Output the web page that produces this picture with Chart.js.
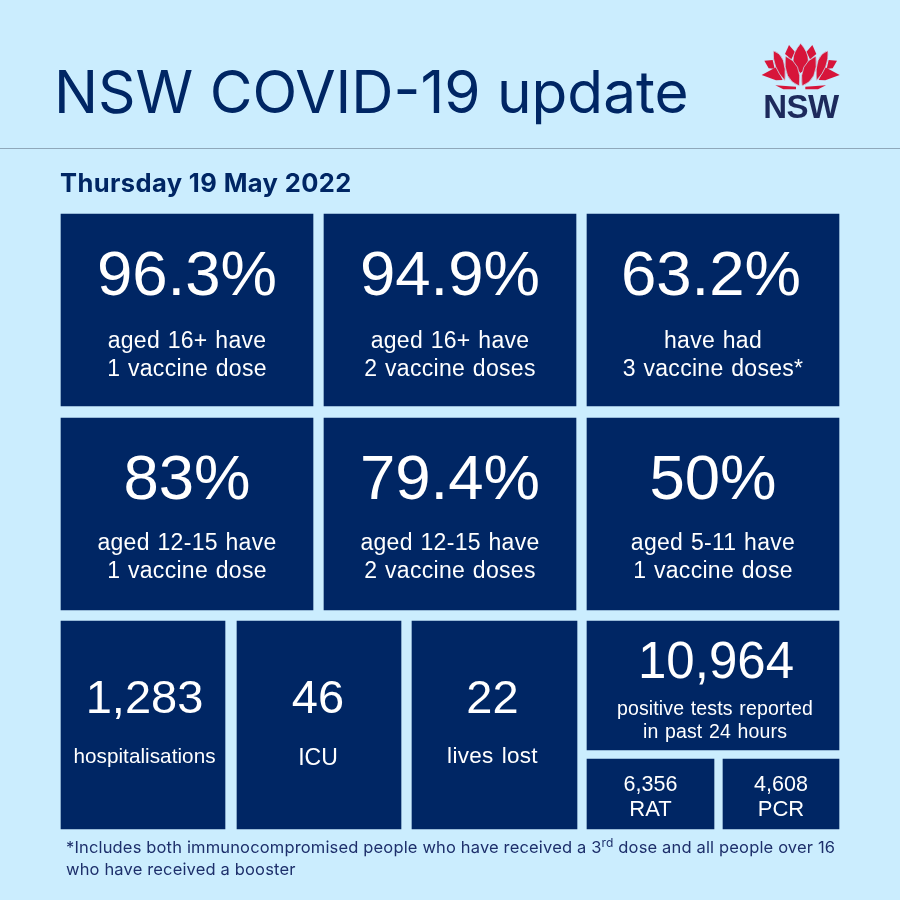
<!DOCTYPE html>
<html>
<head>
<meta charset="utf-8">
<title>NSW COVID-19 update</title>
<script src="https://cdn.jsdelivr.net/npm/chart.js@4/dist/chart.umd.min.js"></script>
<style>
    html, body { margin: 0; padding: 0; background: #cbedfe; }
    canvas { display: block; }
</style>
</head>
<body>
<canvas id="update-chart" width="900" height="900"></canvas>
<script>
// Data
const pageTitle = 'NSW COVID-19 update';
const reportDate = 'Thursday 19 May 2022';
const vaccineValues = [96.3, 94.9, 63.2, 83, 79.4, 50];
const vaccineCaptions = [
    ['aged 16+ have', '1 vaccine dose'],
    ['aged 16+ have', '2 vaccine doses'],
    ['have had', '3 vaccine doses*'],
    ['aged 12-15 have', '1 vaccine dose'],
    ['aged 12-15 have', '2 vaccine doses'],
    ['aged 5-11 have', '1 vaccine dose']
];
const countValues = [1283, 46, 22, 10964, 6356, 4608];
const countCaptions = [
    ['hospitalisations'],
    ['ICU'],
    ['lives lost'],
    ['positive tests reported', 'in past 24 hours'],
    ['RAT'],
    ['PCR']
];
const footnoteLines = [
    ['*Includes both immunocompromised people who have received a 3', 'rd', ' dose and all people over 16'],
    ['who have received a booster']
];

// Layout of the tiles, in canvas pixels
const NAVY = '#002664';
const BACKGROUND = '#cbedfe';
const SANS = '"Liberation Sans", Arial, sans-serif';
const HEADING = 'Inter, sans-serif';
const percentBox = (left, right, top, captionBase, valueShift = 0) => ({
    left, right, top, bottom: top + 192, valueShift, captionBase,
    valueSize: 63.5, valueBase: 81, captionSize: 23, captionSpacing: 0.3, captionWordGap: 1
});
const countBox = (left, right, captionSize, captionBase, captionSpacing, captionWordGap, shift) => ({
    left, right, top: 621, bottom: 829, valueShift: shift, captionShift: shift,
    valueSize: 47, valueBase: 92, captionSize, captionBase: [captionBase], captionSpacing, captionWordGap
});
const tileBoxes = [
    percentBox(61, 313, 214, [134, 162]), percentBox(324, 576, 214, [134, 162]), percentBox(587, 839, 214, [134, 162], -2),
    percentBox(61, 313, 418, [132, 160]), percentBox(324, 576, 418, [132, 160]), percentBox(587, 839, 418, [132, 160]),
    countBox(61, 225, 20.7, 142, 0.05, 0, 1.5), countBox(237, 401, 23, 144, 0, 0, -1), countBox(412, 577, 22.5, 142, 0.3, 1.5, -2),
    { left: 587, right: 839, top: 621, bottom: 750, valueShift: 3, captionShift: 2, valueSize: 51, valueBase: 57, captionSize: 19.5, captionBase: [94, 117], captionSpacing: 0.15, captionWordGap: 1 },
    { left: 587, right: 714, top: 759, bottom: 829, valueSize: 21.5, valueBase: 32, captionSize: 22, captionBase: [57], captionSpacing: 0, captionWordGap: 0 },
    { left: 723, right: 839, top: 759, bottom: 829, valueSize: 21.5, valueBase: 32, captionSize: 22, captionBase: [57], captionSpacing: 0, captionWordGap: 0 }
];

const tileTexts = [
    ...vaccineValues.map((v, i) => ({ value: `${v}%`, caption: vaccineCaptions[i] })),
    ...countValues.map((v, i) => ({ value: v.toLocaleString('en-AU'), caption: countCaptions[i] }))
];

function drawText(ctx, text, x, y, font, color, align, spacing, wordGap) {
    ctx.font = font;
    ctx.fillStyle = color;
    ctx.textAlign = align;
    ctx.letterSpacing = `${spacing || 0}px`;
    ctx.wordSpacing = `${wordGap || 0}px`;
    ctx.fillText(text, x, y);
}

// Waratah petals, left half only; the right half is mirrored.
// Leaves are [tip, control, base, control], the rest are plain outlines.
const logoOutlines = [
    [[73, 92], [98, 90], [104, 116], [86, 115]],
    [[65, 135], [108, 112], [128, 150], [108, 151]],
    [[106, 166], [168, 170], [168, 178], [130, 178]],
    [[147, 45], [165, 66], [154, 88], [135, 72]]
];
const logoCentreLeaf = [[182, 40], [228, 95], [182, 130], [136, 95]];
const logoLeaves = [
    [[100, 62], [142, 74], [135, 152], [96, 112]],
    [[136, 78], [188, 100], [178, 168], [128, 150]]
];

function drawLogo(ctx) {
    const toX = (x, mirror) => 740 + (mirror ? 364 - x : x) / 3;
    const toY = y => 30 + y / 3;
    const drawOutline = (points, mirror) => {
        ctx.beginPath();
        points.forEach(([x, y], i) => {
            if (i === 0) ctx.moveTo(toX(x, mirror), toY(y));
            else ctx.lineTo(toX(x, mirror), toY(y));
        });
        ctx.closePath();
        ctx.fill();
    };
    const drawLeaf = ([tip, c1, base, c2], mirror) => {
        ctx.beginPath();
        ctx.moveTo(toX(tip[0], mirror), toY(tip[1]));
        ctx.quadraticCurveTo(toX(c1[0], mirror), toY(c1[1]), toX(base[0], mirror), toY(base[1]));
        ctx.quadraticCurveTo(toX(c2[0], mirror), toY(c2[1]), toX(tip[0], mirror), toY(tip[1]));
        ctx.closePath();
        ctx.fill();
        ctx.stroke();
    };
    ctx.fillStyle = '#d7153a';
    ctx.strokeStyle = BACKGROUND;
    ctx.lineWidth = 0.7;
    logoOutlines.forEach(points => {
        drawOutline(points, false);
        drawOutline(points, true);
    });
    drawLeaf(logoCentreLeaf, false);
    logoLeaves.forEach(leaf => {
        drawLeaf(leaf, false);
        drawLeaf(leaf, true);
    });
    drawText(ctx, 'NSW', 801, 118, `bold 33px ${SANS}`, '#1d2a5c', 'center', -0.5);
}

const infographicPlugin = {
    id: 'infographic',
    beforeDatasetsDraw(chart) {
        const ctx = chart.ctx;
        ctx.save();
        ctx.fillStyle = '#8fa8ba';
        ctx.fillRect(0, 148, 900, 1);
        ctx.textBaseline = 'alphabetic';
        drawText(ctx, pageTitle, 54, 113, `58.5px ${HEADING}`, NAVY, 'left', 0);
        drawText(ctx, reportDate, 60, 192, `bold 25.5px ${HEADING}`, NAVY, 'left', 0.4);
        drawLogo(ctx);

        // footnote with the raised "rd"
        footnoteLines.forEach((parts, row) => {
            let x = 66;
            const y = 853 + row * 22;
            parts.forEach((part, i) => {
                const raised = parts.length > 1 && i === 1;
                drawText(ctx, part, x, raised ? y - 6 : y, `${raised ? 12 : 16.5}px ${HEADING}`, '#1d2f6b', 'left', 0.16);
                x += ctx.measureText(part).width;
            });
        });
        ctx.restore();
    },
    afterDatasetsDraw(chart) {
        const ctx = chart.ctx;
        ctx.save();
        ctx.textBaseline = 'alphabetic';
        tileBoxes.forEach((box, i) => {
            const bar = chart.getDatasetMeta(i).data[0];
            const text = tileTexts[i];
            drawText(ctx, text.value, bar.x + (box.valueShift || 0), box.top + box.valueBase, `${box.valueSize}px ${SANS}`, '#ffffff', 'center', 0);
            text.caption.forEach((line, row) => {
                drawText(ctx, line, bar.x + (box.captionShift || 0), box.top + box.captionBase[row], `${box.captionSize}px ${SANS}`, '#ffffff', 'center', box.captionSpacing, box.captionWordGap);
            });
        });
        ctx.restore();
    }
};

new Chart(document.getElementById('update-chart'), {
    type: 'bar',
    data: {
        datasets: tileBoxes.map((box, i) => ({
            label: tileTexts[i].value,
            data: [{ x: (box.left + box.right) / 2, y: [box.top, box.bottom] }],
            barThickness: box.right - box.left,
            backgroundColor: NAVY,
            borderWidth: 0,
            stack: 'tiles'
        }))
    },
    options: {
        responsive: false,
        animation: false,
        devicePixelRatio: 1,
        layout: { padding: 0 },
        scales: {
            x: { type: 'linear', display: false, min: 0, max: 900, offset: false },
            y: { type: 'linear', display: false, min: 0, max: 900, reverse: true, stacked: false }
        },
        plugins: {
            legend: { display: false },
            tooltip: { enabled: false }
        }
    },
    plugins: [infographicPlugin]
});
</script>
</body>
</html>
